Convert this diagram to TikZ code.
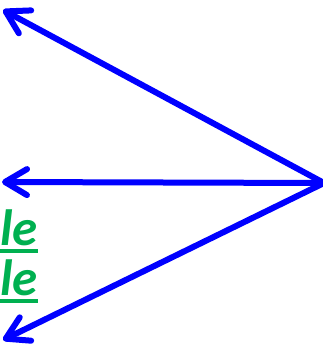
\documentclass[tikz,border=0pt]{standalone}
\usepackage{fontspec}
\setmainfont{Carlito}
\usetikzlibrary{arrows.meta}
\definecolor{offgreen}{HTML}{00B050}
\newcommand{\thickul}[1]{\setbox0\hbox{#1}\rlap{\rule[-7.5pt]{\wd0}{4pt}}\box0}
\begin{document}
\begin{tikzpicture}[x=1pt,y=-1pt,
  arr/.style={draw=blue,line width=6pt,line cap=round,
    -{Straight Barb[round,length=22pt,width=26pt,line width=6pt]}},
  lbl/.style={text=offgreen,font=\fontsize{51}{56}\selectfont\bfseries\itshape,inner sep=0pt,anchor=base east}]
\useasboundingbox (0,0) rectangle (322,352);
\coordinate (apex) at (324,183);
\coordinate (t1) at (3,10);
\coordinate (t2) at (2,182);
\coordinate (t3) at (3,340);
\draw[arr] (apex) -- (t1);
\draw[arr] (apex) -- (t2);
\draw[arr] (apex) -- (t3);
\node[lbl] (l1) at (38,245) {\thickul{\hspace{0.5em}le}};
\node[lbl] (l2) at (38,295) {\thickul{\hspace{0.5em}le}};
\end{tikzpicture}
\end{document}
